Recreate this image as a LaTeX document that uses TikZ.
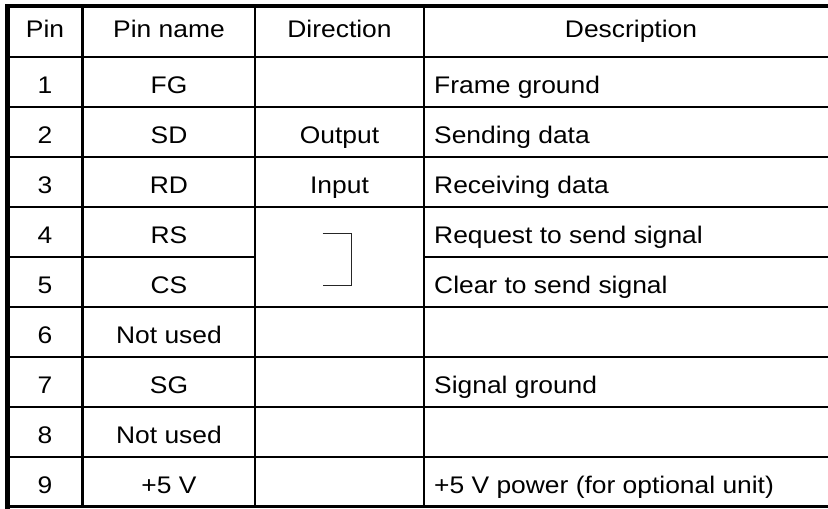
\documentclass[tikz,border=0pt]{standalone}
\usepackage{fontspec}
\setmainfont{Liberation Sans}[FakeStretch=1.1]
\begin{document}
\begin{tikzpicture}[x=1pt,y=-1pt,
  rule/.style={line width=2.2pt,line cap=rect},
  frame/.style={line width=4.5pt,line cap=rect},
  brk/.style={line width=1.5pt,draw=black!85},
  cell/.style={inner sep=0pt,anchor=base,font=\fontsize{24}{28}\selectfont},
  lcell/.style={cell,anchor=base west}]
\useasboundingbox (0,0) rectangle (828,509);
\clip (0,0) rectangle (828,509);

% inner column rules
\foreach \x in {82.5,255,424} \draw[rule] (\x,6) -- (\x,506.5);
% row rules (direction cells of pins 4 and 5 are merged)
\foreach \y in {57,107,157,207,307,357,407,457} \draw[rule] (7.5,\y) -- (845,\y);
\draw[rule] (7.5,257) -- (255,257);
\draw[rule] (424,257) -- (845,257);
% outer frame
\draw[rule] (7.5,506.5) -- (845,506.5);
\draw[frame] (845,6) -- (7.5,6) -- (7.5,506.5);

% header
\node[cell] (hpin)  at (45,37.5)  {Pin};
\node[cell] (hname) at (169,37.5) {Pin name};
\node[cell] (hdir)  at (339.5,37.5) {Direction};
\node[cell] (hdesc) at (631,37.5) {Description};

% pin numbers
\foreach \n in {1,...,9}
  \node[cell] (n\n) at (45,{57+50*(\n-1)+36}) {\n};

% pin names
\node[cell] (m1) at (169,93)  {FG};
\node[cell] (m2) at (169,143) {SD};
\node[cell] (m3) at (169,193) {RD};
\node[cell] (m4) at (169,243) {RS};
\node[cell] (m5) at (169,293) {CS};
\node[cell] (m6) at (169,343) {Not used};
\node[cell] (m7) at (169,393) {SG};
\node[cell] (m8) at (169,443) {Not used};
\node[cell] (m9) at (169,493) {+5 V};

% directions
\node[cell] (d2) at (339.5,143) {Output};
\node[cell] (d3) at (339.5,193) {Input};
\coordinate (rsl) at (322.5,233.3);
\coordinate (rsr) at (351.7,233.3);
\coordinate (csr) at (351.7,285.3);
\coordinate (csl) at (322.5,285.3);
\draw[brk] (rsl) -- (rsr) -- (csr) -- (csl);

% descriptions
\node[lcell] (e1) at (434,93)  {Frame ground};
\node[lcell] (e2) at (434,143) {Sending data};
\node[lcell] (e3) at (434,193) {Receiving data};
\node[lcell] (e4) at (434,243) {Request to send signal};
\node[lcell] (e5) at (434,293) {Clear to send signal};
\node[lcell] (e7) at (434,393) {Signal ground};
\node[lcell] (e9) at (434,493) {+5 V power (for optional unit)};
\end{tikzpicture}
\end{document}
